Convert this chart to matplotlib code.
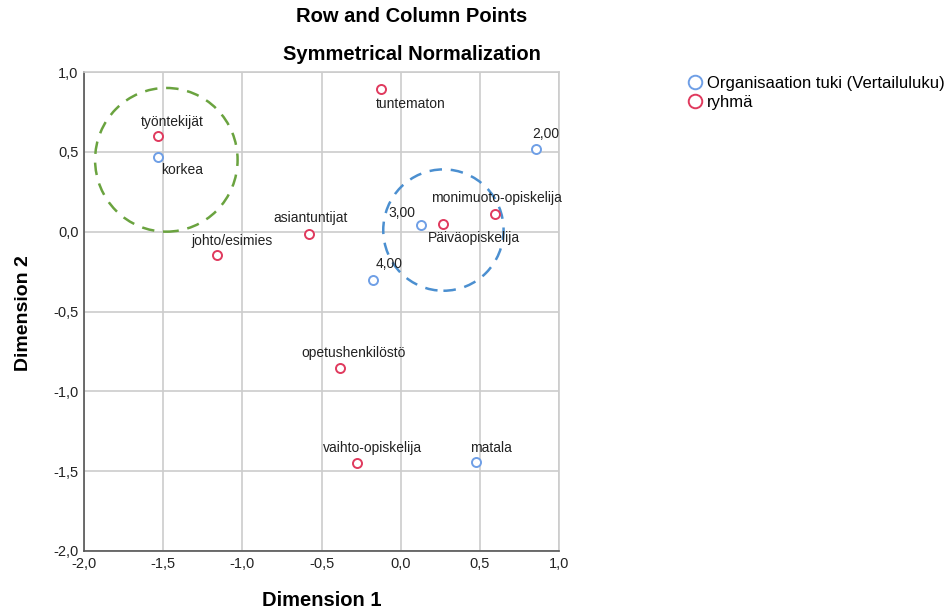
import matplotlib
matplotlib.use('Agg')
import matplotlib.pyplot as plt
from matplotlib.patches import Circle
from matplotlib.ticker import FuncFormatter

plt.rcParams['font.family'] = ['Liberation Sans', 'DejaVu Sans']

# Organisaation tuki (column points)
tuki_labels = ['korkea', '2,00', '3,00', '4,00', 'matala']
tuki_x = [-1.53, 0.855, 0.13, -0.175, 0.475]
tuki_y = [0.47, 0.52, 0.044, -0.30, -1.44]

# ryhmä (row points)
ryhma_labels = ['työntekijät', 'tuntematon', 'asiantuntijat', 'johto/esimies',
                'monimuoto-opiskelija', 'Päiväopiskelija', 'opetushenkilöstö',
                'vaihto-opiskelija']
ryhma_x = [-1.53, -0.125, -0.58, -1.16, 0.595, 0.267, -0.383, -0.276]
ryhma_y = [0.60, 0.895, -0.015, -0.145, 0.11, 0.05, -0.855, -1.45]

# label offsets in pixels
tuki_off = [(24, -13), (10, 15), (-19, 12), (16, 16), (15, 14)]
ryhma_off = [(14, 14), (30, -15), (2, 16), (15, 14), (2, 16), (31, -14), (14, 15), (16, 15)]

blue = '#6f9fe6'
red = '#e03a5e'

fig = plt.figure(figsize=(9.51, 6.12), dpi=100)
ax = fig.add_axes([84 / 951, 1 - 551 / 612, 475 / 951, 479 / 612])

ax.set_xlim(-2, 1)
ax.set_ylim(-2, 1)
ax.set_xticks([-2, -1.5, -1, -0.5, 0, 0.5, 1])
ax.set_yticks([-2, -1.5, -1, -0.5, 0, 0.5, 1])
fmt = FuncFormatter(lambda v, p: f'{v:.1f}'.replace('.', ','))
ax.xaxis.set_major_formatter(fmt)
ax.yaxis.set_major_formatter(fmt)
ax.tick_params(length=0, labelsize=10.5, colors='#222222', pad=4)
ax.grid(True, color='#cccccc', linewidth=1.2)
ax.set_axisbelow(True)
for s in ['top', 'right']:
    ax.spines[s].set_color('#cccccc')
    ax.spines[s].set_linewidth(1.2)
for s in ['left', 'bottom']:
    ax.spines[s].set_color('#555555')
    ax.spines[s].set_linewidth(1.2)

# highlight circles
ax.add_patch(Circle((-1.48, 0.45), 0.45, fill=False, ls=(0, (5, 3.5)), lw=1.8, color='#6aa33f'))
ax.add_patch(Circle((0.27, 0.01), 0.38, fill=False, ls=(0, (5, 3.5)), lw=1.8, color='#4b8fd0'))

ax.plot(tuki_x, tuki_y, 'o', ls='none', mfc='white', mec=blue, mew=1.4, ms=6.5,
        label='Organisaation tuki (Vertailuluku)')
ax.plot(ryhma_x, ryhma_y, 'o', ls='none', mfc='white', mec=red, mew=1.4, ms=6.5,
        label='ryhmä')

for lab, x, y, off in zip(tuki_labels, tuki_x, tuki_y, tuki_off):
    ax.annotate(lab, (x, y), xytext=off, textcoords='offset pixels',
                ha='center', va='center', fontsize=10, color='#222222')
for lab, x, y, off in zip(ryhma_labels, ryhma_x, ryhma_y, ryhma_off):
    ax.annotate(lab, (x, y), xytext=off, textcoords='offset pixels',
                ha='center', va='center', fontsize=10, color='#222222')

fig.text(412 / 951, 1 - 17 / 612, 'Row and Column Points', ha='center', va='center',
         fontsize=14.5, fontweight='bold')
fig.text(412 / 951, 1 - 55 / 612, 'Symmetrical Normalization', ha='center', va='center',
         fontsize=14.5, fontweight='bold')
fig.text(322 / 951, 1 - 601 / 612, 'Dimension 1', ha='center', va='center',
         fontsize=14.5, fontweight='bold')
fig.text(24 / 951, 1 - 313 / 612, 'Dimension 2', ha='center', va='center',
         fontsize=14, fontweight='bold', rotation=90)

fig.legend(loc='upper left', bbox_to_anchor=(682 / 951, 1 - 69 / 612), frameon=False,
           fontsize=12, handlelength=0.8, handletextpad=0.3, labelspacing=0.25,
           markerscale=1.5, borderaxespad=0)

fig.savefig('out.png', dpi=100)
